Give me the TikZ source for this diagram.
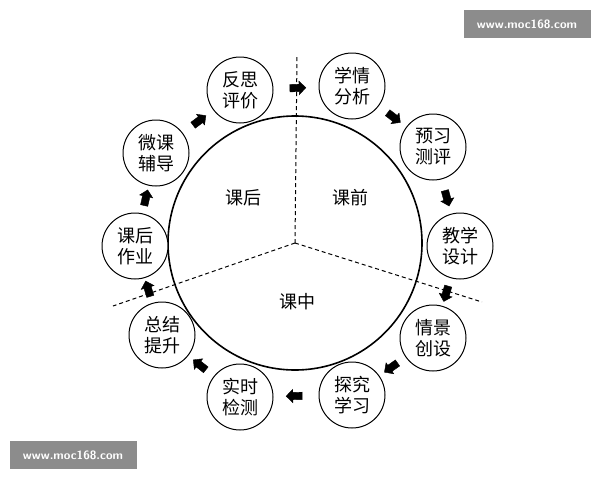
\documentclass[tikz,border=0pt]{standalone}
\usepackage{fontspec}
\newfontfamily\cjk{Noto Sans CJK SC}
\usetikzlibrary{calc,shapes.arrows}
\begin{document}
\begin{tikzpicture}[x=1pt,y=-1pt,
  small/.style={circle,draw,line width=1pt,minimum size=66pt,inner sep=0pt,font=\cjk\fontsize{18}{21}\selectfont,align=center,fill=white},
  lab/.style={font=\cjk\fontsize{18}{21}\selectfont},
  blk/.style={single arrow,fill=black,draw=black,minimum height=16pt,inner sep=3.5pt,single arrow head extend=3pt,single arrow tip angle=90},
  wm/.style={fill=black!45,text=white,font=\sffamily\bfseries\fontsize{12}{14}\selectfont,minimum width=127pt,minimum height=28pt,inner sep=0pt},
  dl/.style={dash pattern=on 4pt off 3pt,line width=1pt}]
\useasboundingbox (0,0) rectangle (600,480);
\fill[white] (0,0) rectangle (600,480);
\coordinate (c) at (295,243);
\coordinate (t) at (297,55);
\coordinate (r) at (482,302);
\coordinate (l) at (113,306);
\draw[dl] (c)--(t); \draw[dl] (c)--(r); \draw[dl] (c)--(l);
\draw[line width=1.6pt] (c) circle (127);
\node[lab] (k1) at (243,198) {课后};
\node[lab] (k2) at (350,198) {课前};
\node[lab] (k3) at (297,302) {课中};
\node[small] (n1) at (240,90) {反思\\评价};
\node[small] (n2) at (352,86) {学情\\分析};
\node[small] (n3) at (433,147) {预习\\测评};
\node[small] (n4) at (460,246) {教学\\设计};
\node[small] (n5) at (433,338) {情景\\创设};
\node[small] (n6) at (352,395) {探究\\学习};
\node[small] (n7) at (240,397) {实时\\检测};
\node[small] (n8) at (162,335) {总结\\提升};
\node[small] (n9) at (135,246) {课后\\作业};
\node[small] (n10) at (156,153) {微课\\辅导};
\foreach \a/\b in {n1/n2,n2/n3,n3/n4,n4/n5,n5/n6,n6/n7,n7/n8,n8/n9,n9/n10,n10/n1}{
  \path let \p1=($(\b)-(\a)$), \n1={atan2(\y1,\x1)} in
    node[blk,rotate=\n1] (arr-\a) at ($(\a)!0.5!(\b)$) {};
}
\node[wm] (w1) at (527,24) {www.moc168.com};
\node[wm] (w2) at (73,455) {www.moc168.com};
\end{tikzpicture}
\end{document}
